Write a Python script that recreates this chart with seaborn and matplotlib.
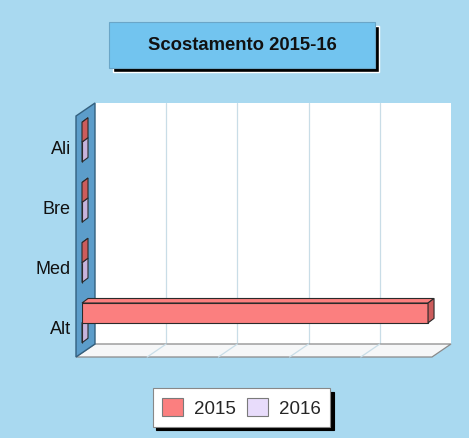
import numpy as np
import pandas as pd
import matplotlib
matplotlib.use("Agg")
import matplotlib.pyplot as plt
import matplotlib.transforms as mtrans
from matplotlib.patches import Polygon, Rectangle
from matplotlib.lines import Line2D
import seaborn as sns

# Dati del grafico
categorie = ["Ali", "Bre", "Med", "Alt"]
anni = ["2015", "2016"]
valori_2015 = [0, 0, 0, 4.86]
valori_2016 = [0, 0, 0, 0]
griglia_x = [1, 2, 3, 4]

colori = {"2015": "#fb7f7f", "2016": "#e8dcfb"}
colori_lato = {"2015": "#cc5c5c", "2016": "#c6b3dc"}

df = pd.DataFrame({
    "categoria": categorie * 2,
    "anno": [anni[0]] * len(categorie) + [anni[1]] * len(categorie),
    "valore": valori_2015 + valori_2016,
})

sns.set_style("white")
plt.rcParams["font.family"] = ["Liberation Sans", "DejaVu Sans"]

W, H = 469, 439
fig = plt.figure(figsize=(W / 100, H / 100), dpi=100)
fig.patch.set_facecolor("#a9d9f0")

# piano delle barre
ax = fig.add_axes([82 / W, 1 - 354 / H, 356 / W, 241 / H])
sns.barplot(data=df, y="categoria", x="valore", hue="anno", order=categorie,
            hue_order=anni, palette=colori, saturation=1, orient="h", width=0.66,
            edgecolor="#2a2a2a", linewidth=0.8, ax=ax)
handles, labels = ax.get_legend_handles_labels()
ax.get_legend().remove()

ax.set_xlim(0, 5)
ax.set_ylim(len(categorie) - 0.5, -0.5)
ax.set_xticks(griglia_x)
ax.set_xticklabels([])
ax.set_xlabel("")
ax.set_ylabel("")
ax.set_facecolor("none")
for s in ax.spines.values():
    s.set_visible(False)
ax.tick_params(axis="x", length=0)
ax.tick_params(axis="y", length=0, pad=8, labelsize=13, labelcolor="#111111")
# etichette un po' piu' in basso, come nell'originale
giu = mtrans.ScaledTranslation(0, -4 / 100, fig.dpi_scale_trans)
for t in ax.get_yticklabels():
    t.set_transform(t.get_transform() + giu)


def sposta(x, y, dx, dy):
    p = ax.transData.transform((x, y))
    return ax.transData.inverted().transform(p + np.array([dx, dy]))


F = (-6, -4)   # piano frontale
B = (13, 9)    # parete di fondo
D = (6, 4.5)   # profondita' barre
x0, x1 = ax.get_xlim()
ybot, ytop = ax.get_ylim()

# parete di fondo
fondo = [sposta(x0, ytop, *B), sposta(x1, ytop, *B), sposta(x1, ybot, *B), sposta(x0, ybot, *B)]
ax.add_patch(Polygon(fondo, closed=True, facecolor="white", edgecolor="none",
                     zorder=0.1, clip_on=False))
# pavimento
pav = [sposta(x0, ybot, *F), sposta(x1, ybot, *F), sposta(x1, ybot, *B), sposta(x0, ybot, *B)]
ax.add_patch(Polygon(pav, closed=True, facecolor="#f6f7f8", edgecolor="#8a8a8a",
                     linewidth=0.9, zorder=0.2, clip_on=False))
# parete laterale
lato = [sposta(x0, ytop, *F), sposta(x0, ybot, *F), sposta(x0, ybot, *B), sposta(x0, ytop, *B)]
ax.add_patch(Polygon(lato, closed=True, facecolor="#5c9dca", edgecolor="#33607f",
                     linewidth=1.0, zorder=0.3, clip_on=False))

# griglia
for v in ax.get_xticks():
    a, b = sposta(v, ytop, *B), sposta(v, ybot, *B)
    ax.add_line(Line2D([a[0], b[0]], [a[1], b[1]], color="#c9dde7", lw=0.9,
                       zorder=0.15, clip_on=False))
    c = sposta(v, ybot, *F)
    ax.add_line(Line2D([b[0], c[0]], [b[1], c[1]], color="#c9dde7", lw=0.9,
                       zorder=0.25, clip_on=False))

# facce 3D delle barre
for cont, anno in zip(ax.containers, anni):
    z = 1.2 if anno == anni[0] else 0.8
    for r in cont:
        bx, by, bw, bh = r.get_x(), r.get_y(), r.get_width(), r.get_height()
        sopra = [(bx, by), (bx + bw, by), sposta(bx + bw, by, *D), sposta(bx, by, *D)]
        destra = [(bx + bw, by), (bx + bw, by + bh), sposta(bx + bw, by + bh, *D),
                  sposta(bx + bw, by, *D)]
        ax.add_patch(Polygon(sopra, closed=True, facecolor=colori[anno],
                             edgecolor="#2a2a2a", linewidth=0.8, zorder=z, clip_on=False))
        ax.add_patch(Polygon(destra, closed=True, facecolor=colori_lato[anno],
                             edgecolor="#2a2a2a", linewidth=0.8, zorder=z, clip_on=False))

# titolo
fig.patches.append(Rectangle((113 / W, 1 - 73 / H), 266 / W, 46 / H,
                             transform=fig.transFigure, facecolor="black", zorder=1))
fig.patches.append(Rectangle((109 / W, 1 - 69 / H), 266 / W, 46 / H,
                             transform=fig.transFigure, facecolor="#72c4ef",
                             edgecolor="#6aa6c8", linewidth=0.8, zorder=2))
fig.text(242 / W, 1 - 46 / H, "Scostamento 2015-16", ha="center", va="center",
         fontsize=13.3, fontweight="bold", color="#111111", zorder=3)

# legenda
leg = fig.legend(handles, labels, loc="center", bbox_to_anchor=(241.5 / W, 1 - 408.5 / H),
                 ncol=2, frameon=True, fancybox=False, edgecolor="#888888",
                 shadow={"color": "black", "alpha": 1, "ox": 2.5, "oy": -2.5},
                 fontsize=13.5, handlelength=1.12, handleheight=1.12,
                 handletextpad=0.6, columnspacing=0.55, borderpad=0.5)
leg.get_frame().set_linewidth(0.8)
for h in leg.legend_handles:
    h.set_edgecolor("#7a7a7a")

fig.savefig("out.png", dpi=100, facecolor=fig.get_facecolor())
